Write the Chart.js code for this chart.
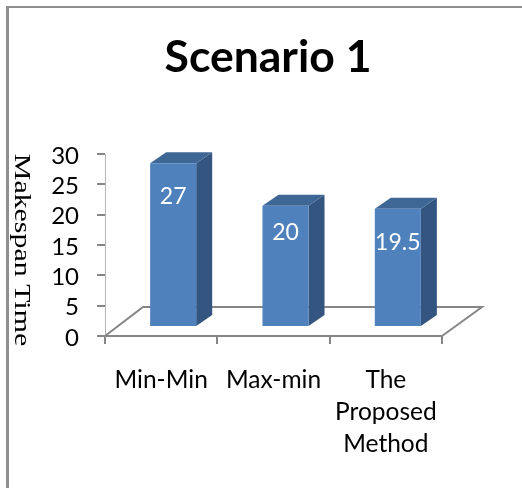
<!DOCTYPE html>
<html lang="en">
<head>
    <meta charset="UTF-8">
    <title>Scenario 1</title>
    <style>
        html, body { margin: 0; padding: 0; background: #fff; }
        #frame {
            position: absolute;
            left: 6px;
            top: 6px;
            right: 0;
            bottom: 0;
            border-left: 3px solid #8e8e8e;
            border-top: 2px solid #8e8e8e;
        }
        canvas { position: absolute; left: 0; top: 0; }
    </style>
</head>
<body>
    <div id="frame"></div>
    <canvas id="chart" width="522" height="488"></canvas>
    <script src="https://cdn.jsdelivr.net/npm/chart.js"></script>
    <script>
        const categories = ['Min-Min', 'Max-min', ['The', 'Proposed', 'Method']];
        const makespan = [27, 20, 19.5];
        const yTicks = [0, 5, 10, 15, 20, 25, 30];

        const GREY = '#868686';
        // floor depth of the fake 3D box, bars sit partway into it
        const floorDx = 38, floorDy = 29;
        const barDx = 12, barDy = 9;
        const sideDx = 16, sideDy = 11;
        const labelDrop = [33, 27, 34];

        const box3d = {
            id: 'box3d',
            beforeDatasetsDraw(chart) {
                const { ctx, chartArea: a } = chart;
                ctx.save();
                ctx.strokeStyle = GREY;
                ctx.lineWidth = 2;
                ctx.beginPath();
                ctx.moveTo(a.left, a.bottom);
                ctx.lineTo(a.left + floorDx, a.bottom - floorDy);
                ctx.lineTo(a.right + floorDx + 2, a.bottom - floorDy);
                ctx.lineTo(a.right, a.bottom);
                ctx.stroke();
                ctx.restore();
            },
            beforeDatasetDraw(chart) {
                const { ctx } = chart;
                const bars = chart.getDatasetMeta(0).data;
                ctx.save();
                ctx.translate(barDx, -barDy);
                bars.forEach(b => {
                    const r = b.x + b.width / 2;
                    const l = b.x - b.width / 2;
                    ctx.fillStyle = '#34557f';
                    ctx.beginPath();
                    ctx.moveTo(r, b.y);
                    ctx.lineTo(r + sideDx, b.y - sideDy);
                    ctx.lineTo(r + sideDx, b.base - sideDy);
                    ctx.lineTo(r, b.base);
                    ctx.closePath();
                    ctx.fill();
                    ctx.fillStyle = '#3e6796';
                    ctx.beginPath();
                    ctx.moveTo(l, b.y);
                    ctx.lineTo(l + sideDx, b.y - sideDy);
                    ctx.lineTo(r + sideDx, b.y - sideDy);
                    ctx.lineTo(r, b.y);
                    ctx.closePath();
                    ctx.fill();
                });
            },
            afterDatasetDraw(chart) {
                const { ctx } = chart;
                const bars = chart.getDatasetMeta(0).data;
                ctx.fillStyle = '#fff';
                ctx.font = '23px Lato, sans-serif';
                ctx.textAlign = 'center';
                ctx.textBaseline = 'middle';
                bars.forEach((b, i) => {
                    ctx.fillText(String(makespan[i]), b.x, b.y + labelDrop[i]);
                });
                ctx.restore();
            },
            afterDraw(chart) {
                const { ctx } = chart;
                ctx.save();
                ctx.fillStyle = '#000';
                ctx.textAlign = 'center';
                ctx.textBaseline = 'middle';
                ctx.font = 'bold 44.5px Lato, sans-serif';
                ctx.fillText('Scenario 1', 268, 58);
                // axis title reads top to bottom, stretched along its length
                ctx.translate(15, 250);
                ctx.rotate(Math.PI / 2);
                ctx.scale(1.3, 1);
                ctx.font = '23px "Liberation Serif", serif';
                ctx.textBaseline = 'alphabetic';
                ctx.fillText('Makespan Time', 0, 0);
                ctx.restore();
            }
        };

        new Chart(document.getElementById('chart').getContext('2d'), {
            type: 'bar',
            data: {
                labels: categories,
                datasets: [{
                    data: makespan,
                    backgroundColor: '#4f81bd',
                    borderWidth: 0,
                    barPercentage: 0.41,
                    categoryPercentage: 1
                }]
            },
            options: {
                responsive: false,
                animation: false,
                layout: { padding: { left: 0, right: 80, top: 154, bottom: 0 } },
                plugins: {
                    legend: { display: false },
                    tooltip: { enabled: false }
                },
                scales: {
                    x: {
                        afterFit(scale) { scale.height = 152; },
                        grid: { drawOnChartArea: false, color: GREY, lineWidth: 2, tickLength: 8 },
                        border: { color: GREY, width: 2 },
                        ticks: {
                            color: '#000',
                            font: { family: 'Lato, sans-serif', size: 24.5, lineHeight: 1.31 },
                            padding: 20,
                            maxRotation: 0,
                            autoSkip: false
                        }
                    },
                    y: {
                        min: 0,
                        max: 30,
                        afterFit(scale) { scale.width = 105; },
                        afterBuildTicks(scale) { scale.ticks = yTicks.map(value => ({ value })); },
                        grid: { drawOnChartArea: false, color: GREY, lineWidth: 2, tickLength: 8 },
                        border: { color: '#b5b5b5', width: 1 },
                        ticks: {
                            color: '#000',
                            font: { family: 'Lato, sans-serif', size: 24 },
                            padding: 18,
                            labelOffset: 2,
                            autoSkip: false
                        }
                    }
                }
            },
            plugins: [box3d]
        });
    </script>
</body>
</html>
